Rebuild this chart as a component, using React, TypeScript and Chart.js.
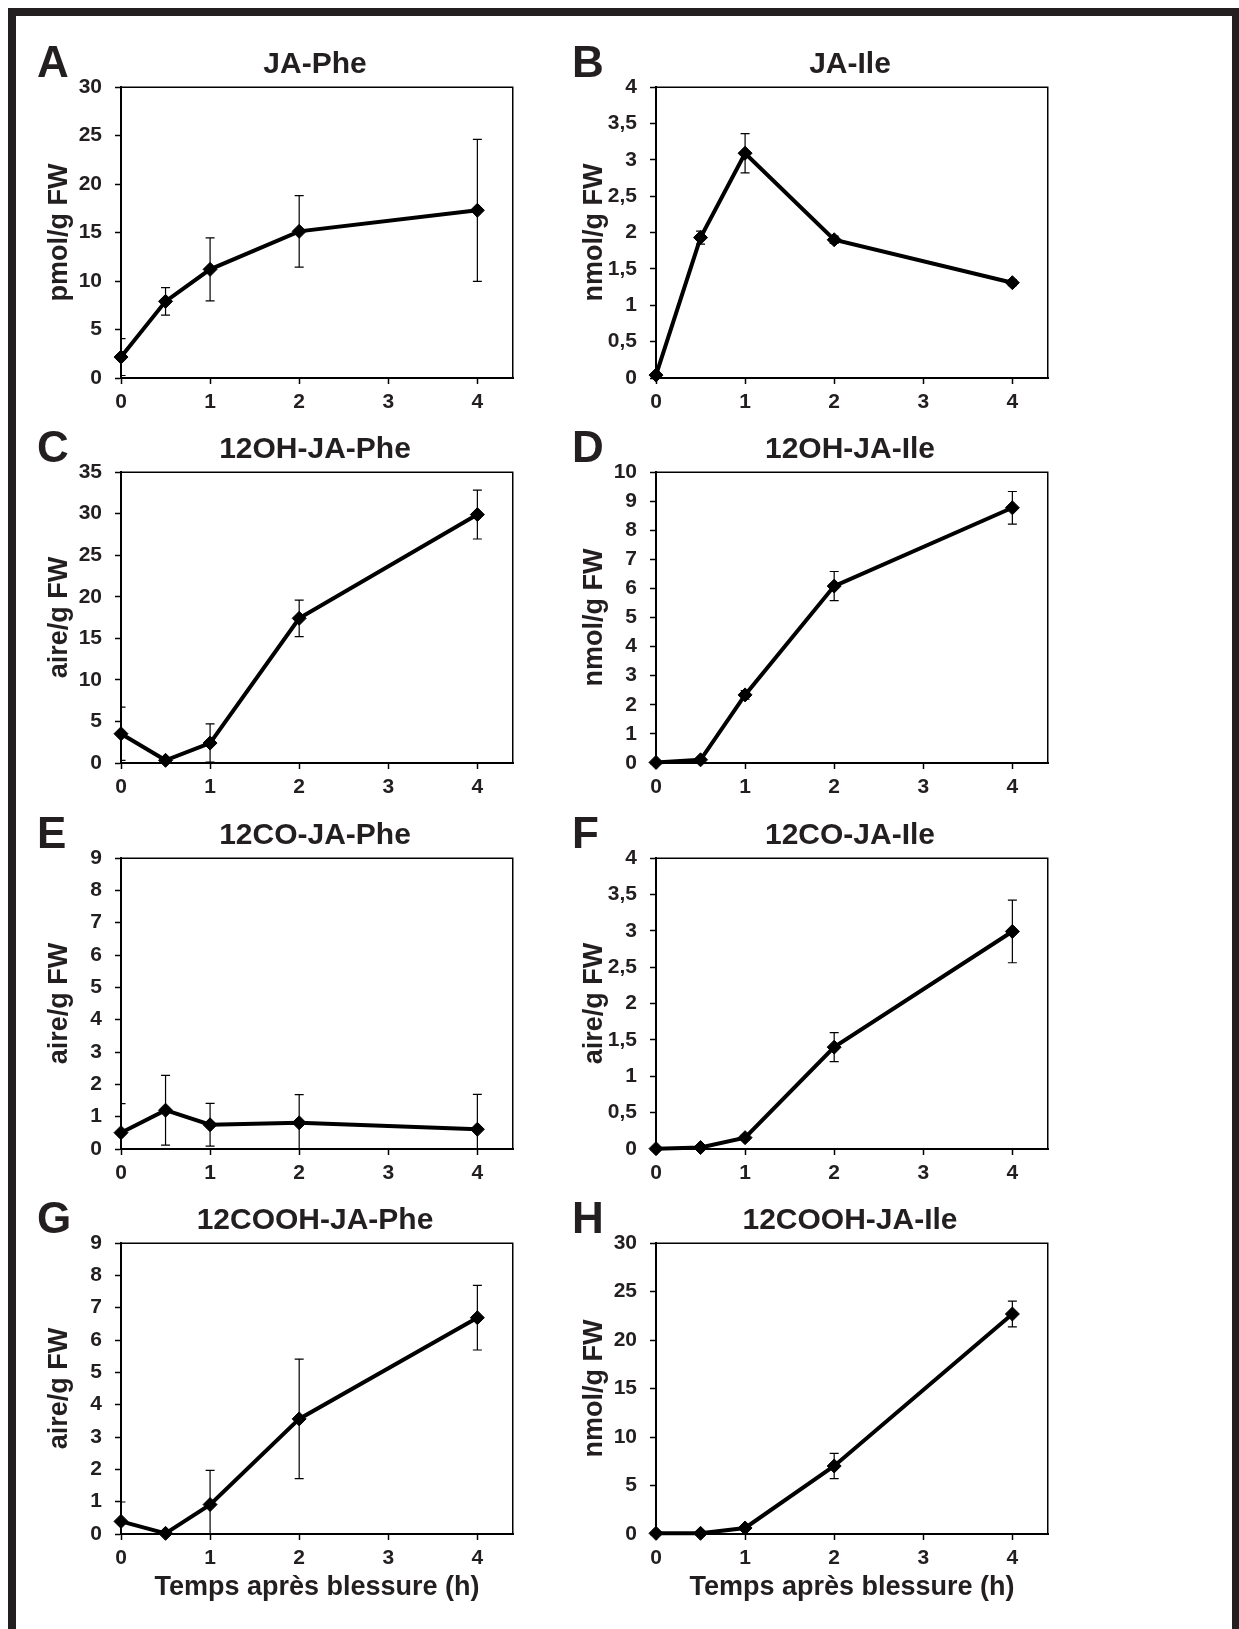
import React, { useEffect, useRef } from "react";
import { Chart, registerables } from "chart.js";

Chart.register(...registerables);

const FONT_FAMILY = '"Liberation Sans", Arial, Helvetica, sans-serif';
const TEXT_COLOR = "#231f20";
const LINE_COLOR = "#000000";

// ---------- data ----------
const timeHours = [0, 0.5, 1, 2, 4];
const xTickValues = [0, 1, 2, 3, 4];
const xAxisMax = 4.4;
const xAxisTitle = "Temps après blessure (h)";

const panelLetters = ["A", "B", "C", "D", "E", "F", "G", "H"];
const panelTitles = [
  "JA-Phe",
  "JA-Ile",
  "12OH-JA-Phe",
  "12OH-JA-Ile",
  "12CO-JA-Phe",
  "12CO-JA-Ile",
  "12COOH-JA-Phe",
  "12COOH-JA-Ile",
];
const yAxisTitles = [
  "pmol/g FW",
  "nmol/g FW",
  "aire/g FW",
  "nmol/g FW",
  "aire/g FW",
  "aire/g FW",
  "aire/g FW",
  "nmol/g FW",
];
const yAxisMax = [30, 4, 35, 10, 9, 4, 9, 30];
const yAxisStep = [5, 0.5, 5, 1, 1, 0.5, 1, 5];

const jaPheMean = [2.16, 7.9, 11.2, 15.12, 17.29];
const jaPheSd = [1.9, 1.42, 3.25, 3.68, 7.32];
const jaIleMean = [0.04, 1.93, 3.09, 1.9, 1.31];
const jaIleSd = [0.01, 0.09, 0.27, 0.05, 0.04];
const oh12JaPheMean = [3.52, 0.32, 2.4, 17.4, 29.88];
const oh12JaPheSd = [3.2, 0.2, 2.3, 2.2, 2.94];
const oh12JaIleMean = [0.02, 0.11, 2.34, 6.08, 8.77];
const oh12JaIleSd = [0.01, 0.05, 0.15, 0.5, 0.56];
const co12JaPheMean = [0.505, 1.2, 0.75, 0.81, 0.61];
const co12JaPheSd = [0.9, 1.08, 0.66, 0.87, 1.08];
const co12JaIleMean = [0.005, 0.02, 0.156, 1.4, 2.99];
const co12JaIleSd = [0.005, 0.01, 0.03, 0.2, 0.43];
const cooh12JaPheMean = [0.39, 0.02, 0.91, 3.56, 6.69];
const cooh12JaPheSd = [0.6, 0.02, 1.06, 1.85, 1.0];
const cooh12JaIleMean = [0.07, 0.07, 0.62, 7.01, 22.68];
const cooh12JaIleSd = [0.05, 0.05, 0.2, 1.3, 1.33];

const panelMeans = [
  jaPheMean,
  jaIleMean,
  oh12JaPheMean,
  oh12JaIleMean,
  co12JaPheMean,
  co12JaIleMean,
  cooh12JaPheMean,
  cooh12JaIleMean,
];
const panelSds = [
  jaPheSd,
  jaIleSd,
  oh12JaPheSd,
  oh12JaIleSd,
  co12JaPheSd,
  co12JaIleSd,
  cooh12JaPheSd,
  cooh12JaIleSd,
];

// ---------- layout ----------
const COL_PLOT_LEFT = [121, 656];
const ROW_PLOT_TOP = [87, 472, 858, 1243];
const PLOT_W = 392;
const PLOT_H = 291;
const PAD_LEFT = 95;
const PAD_TOP = 60;
const PAD_RIGHT = 40;
const PAD_BOTTOM = 75;

const errorBarPlugin = {
  id: "errorBars",
  beforeDatasetsDraw(chart: any) {
    const { ctx, chartArea, scales } = chart;
    const ds = chart.data.datasets[0];
    const errs: number[] = ds.errorValues || [];
    ctx.save();
    ctx.beginPath();
    ctx.rect(chartArea.left, chartArea.top, chartArea.right - chartArea.left, chartArea.bottom - chartArea.top);
    ctx.clip();
    ctx.strokeStyle = LINE_COLOR;
    ctx.lineWidth = 1.2;
    ds.data.forEach((p: any, i: number) => {
      const e = errs[i] || 0;
      const x = scales.x.getPixelForValue(p.x);
      const yHi = scales.y.getPixelForValue(p.y + e);
      const yLo = scales.y.getPixelForValue(p.y - e);
      ctx.beginPath();
      ctx.moveTo(x, yHi);
      ctx.lineTo(x, yLo);
      ctx.moveTo(x - 4.5, yHi);
      ctx.lineTo(x + 4.5, yHi);
      ctx.moveTo(x - 4.5, yLo);
      ctx.lineTo(x + 4.5, yLo);
      ctx.stroke();
    });
    ctx.restore();
  },
};

function makeTextPlugin(letter: string, title: string) {
  return {
    id: "panelText",
    afterDraw(chart: any) {
      const { ctx, chartArea } = chart;
      const { left, right, top, bottom } = chartArea;
      ctx.save();
      // top and right borders of the plot box
      ctx.strokeStyle = LINE_COLOR;
      ctx.lineWidth = 1.5;
      ctx.beginPath();
      ctx.moveTo(left, top + 0.25);
      ctx.lineTo(right - 0.25, top + 0.25);
      ctx.lineTo(right - 0.25, bottom);
      ctx.stroke();
      // panel title
      ctx.fillStyle = TEXT_COLOR;
      ctx.textBaseline = "alphabetic";
      ctx.textAlign = "center";
      ctx.font = `bold 30px ${FONT_FAMILY}`;
      ctx.fillText(title, (left + right) / 2 - 2, top - 14);
      // panel letter
      ctx.textAlign = "left";
      ctx.font = `bold 44px ${FONT_FAMILY}`;
      ctx.fillText(letter, left - 84, top - 10);
      ctx.restore();
    },
  };
}

function formatTick(v: number | string) {
  return String(v).replace(".", ",");
}

function Panel({ index }: { index: number }) {
  const ref = useRef<HTMLCanvasElement>(null);
  const col = index % 2;
  const row = Math.floor(index / 2);
  const left = COL_PLOT_LEFT[col] - PAD_LEFT;
  const top = ROW_PLOT_TOP[row] - PAD_TOP;
  const width = PAD_LEFT + PLOT_W + PAD_RIGHT;
  const height = PAD_TOP + PLOT_H + PAD_BOTTOM;
  const showXTitle = row === 3;

  useEffect(() => {
    const means = panelMeans[index];
    const sds = panelSds[index];
    const yTitleFont = 27;
    const xTitleFont = 27;
    const tickFont = 21;
    const chart = new Chart(ref.current as HTMLCanvasElement, {
      type: "line",
      data: {
        datasets: [
          {
            data: timeHours.map((t, i) => ({ x: t, y: means[i] })),
            errorValues: sds,
            borderColor: LINE_COLOR,
            backgroundColor: LINE_COLOR,
            borderWidth: 4,
            pointStyle: "rectRot",
            pointRadius: 7,
            pointBorderWidth: 1,
            pointBackgroundColor: LINE_COLOR,
            pointBorderColor: LINE_COLOR,
            tension: 0,
            clip: false,
          } as any,
        ],
      },
      options: {
        responsive: false,
        animation: false,
        devicePixelRatio: 1,
        events: [],
        layout: { padding: { left: 0, top: PAD_TOP, right: PAD_RIGHT, bottom: 0 } },
        plugins: {
          legend: { display: false },
          tooltip: { enabled: false },
          title: { display: false },
        },
        scales: {
          x: {
            type: "linear",
            min: 0,
            max: xAxisMax,
            afterBuildTicks: (s: any) => {
              s.ticks = xTickValues.map((v) => ({ value: v }));
            },
            afterFit: (s: any) => {
              s.height = PAD_BOTTOM;
            },
            ticks: {
              font: { family: FONT_FAMILY, size: tickFont, weight: "bold" },
              color: TEXT_COLOR,
              padding: 6,
              maxRotation: 0,
              autoSkip: false,
              callback: (v: any) => formatTick(v),
            },
            grid: {
              display: true,
              drawOnChartArea: false,
              drawTicks: true,
              tickLength: 6,
              tickWidth: 1.5,
              tickColor: LINE_COLOR,
            },
            border: { display: true, color: LINE_COLOR, width: 2 },
            title: {
              display: showXTitle,
              text: xAxisTitle,
              color: TEXT_COLOR,
              font: { family: FONT_FAMILY, size: xTitleFont, weight: "bold" },
              padding: { top: 0, bottom: PAD_BOTTOM - 54 - (xTitleFont * 1.2) / 2 },
            },
          },
          y: {
            type: "linear",
            min: 0,
            max: yAxisMax[index],
            afterFit: (s: any) => {
              s.width = PAD_LEFT;
            },
            ticks: {
              stepSize: yAxisStep[index],
              font: { family: FONT_FAMILY, size: tickFont, weight: "bold" },
              color: TEXT_COLOR,
              padding: 13,
              autoSkip: false,
              callback: (v: any) => formatTick(v),
            },
            grid: {
              display: true,
              drawOnChartArea: false,
              drawTicks: true,
              tickLength: 6,
              tickWidth: 1.5,
              tickColor: LINE_COLOR,
            },
            border: { display: true, color: LINE_COLOR, width: 2 },
            title: {
              display: true,
              text: yAxisTitles[index],
              color: TEXT_COLOR,
              font: { family: FONT_FAMILY, size: yTitleFont, weight: "bold" },
              padding: { top: PAD_LEFT - 61 - (yTitleFont * 1.2) / 2, bottom: 0 },
            },
          },
        },
      } as any,
      plugins: [errorBarPlugin, makeTextPlugin(panelLetters[index], panelTitles[index])],
    });
    return () => chart.destroy();
  }, [index, showXTitle]);

  return (
    <canvas
      ref={ref}
      width={width}
      height={height}
      style={{ position: "absolute", left, top, width, height, display: "block" }}
    />
  );
}

export default function App() {
  return (
    <div style={{ position: "absolute", left: 0, top: 0, width: 1239, height: 1629, background: "#ffffff" }}>
      <div
        style={{
          position: "absolute",
          left: 8,
          top: 8,
          width: 1231,
          height: 1621,
          boxSizing: "border-box",
          borderTop: "8px solid #231f20",
          borderLeft: "8px solid #231f20",
          borderRight: "7px solid #231f20",
          borderBottom: "none",
        }}
      />
      {panelLetters.map((_, i) => (
        <Panel key={i} index={i} />
      ))}
    </div>
  );
}
